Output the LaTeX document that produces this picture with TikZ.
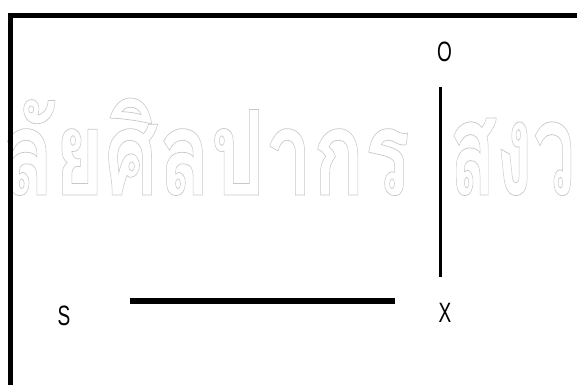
\documentclass[tikz,border=0pt]{standalone}
\usepackage{fontspec}
\usepackage{graphicx}
\newfontfamily\lblfont{Liberation Sans}[FakeStretch=0.68]
\newfontfamily\thaifont[Script=Thai]{Loma}
\definecolor{wmark}{RGB}{200,200,200}
\newcommand\hollow[1]{\special{pdf:literal direct 1 Tr 0.8 w}#1\special{pdf:literal direct 0 Tr}}
\tikzset{lbl/.style={font=\lblfont\fontsize{28}{30}\selectfont,inner sep=0pt},
	bar/.style={line width=5pt},
	wm/.style={text=wmark,inner sep=0pt,anchor=base west,font=\thaifont\bfseries\fontsize{130}{130}\selectfont}}

\begin{document}
\begin{tikzpicture}[x=1pt,y=-1pt]
	\useasboundingbox (0,0) rectangle (577,385);
	\def\wb{195}
	% watermark
	\node[wm] (wa) at (2,\wb) {\resizebox{408pt}{97pt}{\hollow{ลัยศิลปากร}}};
	\node[wm] (wb) at (449,\wb) {\resizebox{126pt}{77pt}{\hollow{สงว}}};
	\path (10,385) coordinate (FL)
	      (10,15.5) coordinate (FC)
	      (577,15.5) coordinate (FR)
	      (130,301) coordinate (SX1)
	      (394.5,301) coordinate (SX2)
	      (440.7,87) coordinate (OX1)
	      (440.7,277) coordinate (OX2);
	\draw[bar] (FL)--(FC)--(FR);
	\draw[bar,line width=5.5pt] (SX1)--(SX2);
	\draw[bar,line width=3.5pt] (OX1)--(OX2);
	\node[lbl] (S) at (64,316) {S};
	\node[lbl] (O) at (444.5,52) {O};
	\node[lbl] (X) at (445,313) {X};
\end{tikzpicture}
\end{document}
